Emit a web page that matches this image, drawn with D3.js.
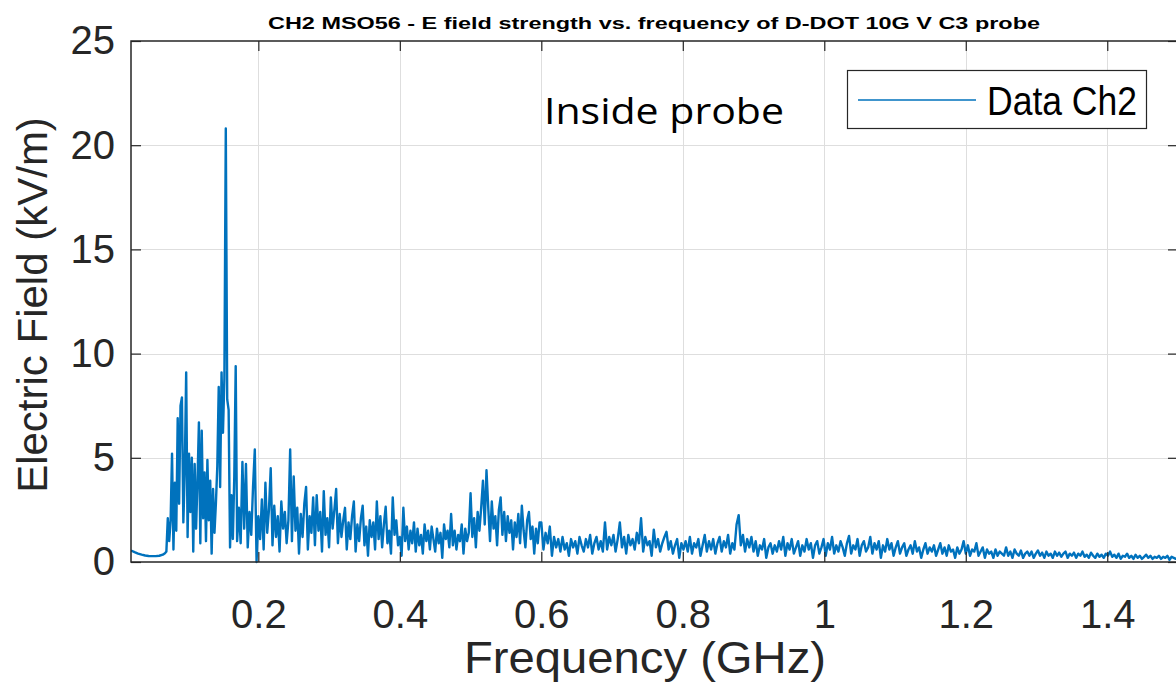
<!DOCTYPE html>
<html><head><meta charset="utf-8">
<script src="https://cdn.jsdelivr.net/npm/d3@7"></script>
<style>body{margin:0;background:#fff}svg{display:block}</style>
</head><body>
<svg id="chart" width="1176" height="688"></svg>
<script>
// ---- data ----
const chartTitle = "CH2 MSO56 - E field strength vs. frequency of D-DOT 10G V C3 probe";
const xLabel = "Frequency (GHz)";
const yLabel = "Electric Field (kV/m)";
const seriesName = "Data Ch2";
const annotation = "Inside probe";
const xTicks = [0.2, 0.4, 0.6, 0.8, 1, 1.2, 1.4];
const yTicks = [0, 5, 10, 15, 20, 25];

// smooth low-frequency part
const lowFreq   = [0.020, 0.025, 0.030, 0.035, 0.040, 0.045, 0.050, 0.055, 0.060, 0.065, 0.068];
const lowValues = [0.55, 0.47, 0.40, 0.35, 0.31, 0.29, 0.28, 0.28, 0.30, 0.35, 0.42];

// noisy spectrum, in bands (start frequency, step in GHz)
const bandStart = [0.070, 0.170, 0.400, 0.600, 0.900, 1.200];
const bandStep  = [0.002, 0.0025, 0.0025, 0.003, 0.003, 0.003];

const band1 = [0.5, 2.1, 1.0, 2.0, 5.2, 0.6, 3.8, 1.5, 6.9, 2.8,
  7.5, 7.9, 1.9, 4.4, 9.1, 1.2, 5.2, 2.4, 5.0, 0.5,
  4.7, 1.6, 3.9, 6.7, 0.9, 6.3, 2.1, 4.3, 1.0, 4.9,
  2.0, 3.9, 0.4, 3.5, 1.4, 2.8, 4.6, 8.4, 3.6, 9.1,
  6.2, 8.8, 20.8, 7.8, 7.3, 0.7, 3.2, 1.1, 4.1, 9.4];
const band2 = [1.0, 2.6, 0.9, 4.8, 1.6, 4.7, 0.7, 2.4, 1.3, 3.6,
  5.4, 0.0, 2.2, 1.1, 3.0, 0.6, 3.8, 1.4, 2.5, 4.5,
  0.8, 2.7, 1.2, 2.2, 0.5, 2.9, 1.6, 2.4, 0.9, 2.0,
  5.4, 1.0, 4.1, 1.5, 2.6, 0.4, 2.3, 1.2, 2.8, 3.6,
  0.6, 2.2, 1.4, 3.1, 0.8, 3.2, 1.5, 2.4, 0.5, 3.4,
  1.3, 2.1, 0.7, 3.1, 1.6, 2.5, 3.5, 0.9, 2.3, 1.2,
  2.0, 2.6, 0.6, 1.9, 1.1, 2.2, 2.9, 0.5, 1.8, 1.0,
  2.1, 2.7, 0.8, 1.7, 0.3, 2.0, 1.2, 1.9, 0.6, 2.9,
  1.1, 2.2, 0.7, 1.8, 2.65, 0.9, 1.5, 0.4, 3.1, 1.3,
  2.0, 0.8];
const band3 = [1.2, 0.3, 2.6, 1.0, 1.7, 0.6, 1.5, 0.9, 1.9, 0.5,
  1.6, 0.8, 1.3, 0.4, 1.8, 1.0, 1.5, 0.6, 1.7, 1.1,
  0.5, 1.6, 0.9, 1.4, 0.2, 1.8, 1.1, 1.5, 0.7, 2.3,
  0.8, 1.5, 0.6, 1.3, 1.0, 1.8, 0.4, 1.6, 1.0, 1.4,
  3.3, 1.2, 2.1, 0.7, 2.4, 1.5, 2.6, 3.9, 1.8, 4.4,
  2.6, 1.0, 2.9, 1.6, 2.2, 0.8, 2.5, 3.1, 1.3, 2.4,
  1.0, 2.2, 1.4, 2.0, 0.6, 1.9, 1.2, 2.3, 0.9, 2.7,
  1.5, 0.7, 2.0, 2.4, 1.1, 1.7, 0.4, 1.6, 0.9, 1.9];
const band4 = [1.9, 0.6, 1.4, 0.9, 1.7, 0.3, 1.2, 0.7, 1.1, 0.5,
  1.2, 0.6, 0.9, 0.3, 1.1, 0.7, 1.0, 0.4, 1.2, 0.8,
  0.5, 1.1, 0.7, 1.3, 0.4, 0.9, 1.2, 0.6, 1.0, 0.5,
  1.9, 0.6, 1.2, 0.8, 1.3, 0.5, 1.1, 1.9, 0.7, 1.2,
  0.4, 1.3, 0.8, 1.1, 0.6, 1.4, 0.9, 2.1, 0.5, 1.2,
  0.8, 1.0, 0.3, 1.55, 0.7, 1.1, 0.5, 0.9, 1.2, 1.45,
  0.6, 1.0, 0.4, 0.8, 1.1, 0.2, 0.9, 0.6, 1.0, 0.5,
  1.2, 0.4, 0.9, 0.7, 1.1, 0.3, 0.8, 1.3, 0.5, 1.0,
  0.6, 1.1, 0.4, 0.9, 1.2, 0.5, 1.0, 0.7, 1.3, 0.4,
  0.9, 0.6, 1.8, 2.25, 0.8, 1.3, 0.5, 1.1, 0.7, 1.2];
const band5 = [0.5, 1.0, 0.3, 0.8, 0.6, 1.1, 0.2, 0.7, 0.9, 0.4,
  0.8, 0.5, 1.0, 0.6, 1.2, 0.3, 0.9, 0.6, 1.1, 0.4,
  0.7, 1.0, 0.3, 0.8, 0.5, 1.1, 0.6, 0.9, 0.2, 0.8,
  1.0, 0.4, 0.7, 1.1, 0.3, 0.9, 0.6, 1.2, 0.4, 0.8,
  0.5, 1.0, 0.7, 0.3, 0.9, 1.25, 0.4, 0.8, 0.6, 1.1,
  0.3, 0.8, 1.0, 0.5, 0.7, 1.2, 0.4, 0.9, 0.6, 1.0,
  0.2, 0.8, 0.5, 1.1, 0.6, 0.9, 0.3, 0.7, 1.0, 0.4,
  0.7, 0.9, 0.3, 0.6, 0.8, 0.4, 1.0, 0.5, 0.7, 0.2,
  0.6, 0.9, 0.4, 0.7, 0.5, 0.8, 0.3, 0.6, 0.9, 0.4,
  0.7, 0.3, 0.8, 0.5, 0.6, 0.2, 0.7, 0.4, 0.6, 1.0];
const band6 = [0.4, 0.8, 0.3, 0.6, 0.5, 0.9, 0.3, 0.5, 0.7, 0.2,
  0.6, 0.4, 0.5, 0.2, 0.6, 0.3, 0.5, 0.4, 0.3, 0.7,
  0.3, 0.5, 0.2, 0.6, 0.4, 0.3, 0.55, 0.2, 0.4, 0.5,
  0.3, 0.5, 0.2, 0.4, 0.55, 0.3, 0.45, 0.2, 0.5, 0.3,
  0.4, 0.2, 0.5, 0.3, 0.45, 0.25, 0.4, 0.5, 0.2, 0.4,
  0.3, 0.45, 0.2, 0.4, 0.3, 0.5, 0.25, 0.35, 0.2, 0.45,
  0.3, 0.2, 0.4, 0.25, 0.35, 0.2, 0.4, 0.3, 0.5, 0.25,
  0.35, 0.2, 0.4, 0.15, 0.3, 0.25, 0.4, 0.2, 0.3, 0.15,
  0.35, 0.2, 0.3, 0.15, 0.25, 0.35, 0.2, 0.3, 0.15, 0.25,
  0.2, 0.3, 0.15, 0.25, 0.2, 0.3, 0.1, 0.25, 0.2, 0.15, 0.2];
const bands = [band1, band2, band3, band4, band5, band6];

// ---- build series ----
const series = lowFreq.map((f, i) => ({f, v: lowValues[i]}));
bands.forEach((vals, k) => vals.forEach((v, i) => series.push({f: bandStart[k] + i * bandStep[k], v})));

// ---- layout ----
const svg = d3.select("#chart");
const W = 1176, H = 688;
const m = {left: 131, right: 1178, top: 41, bottom: 562};
const x = d3.scaleLinear().domain([0.02, 1.5]).range([m.left, m.right]);
const y = d3.scaleLinear().domain([0, 25]).range([m.bottom, m.top]);
const axisColor = "#262626";
const font = "'Liberation Sans', Arial, sans-serif";

svg.append("rect").attr("width", W).attr("height", H).attr("fill", "#fff");

// grid
const grid = svg.append("g").attr("stroke", "#dedede").attr("stroke-width", 1);
grid.selectAll(".gx").data(xTicks).join("line")
  .attr("x1", d => Math.round(x(d)) + 0.5).attr("x2", d => Math.round(x(d)) + 0.5)
  .attr("y1", m.top).attr("y2", m.bottom);
grid.selectAll(".gy").data(yTicks.filter(d => d > 0 && d < 25)).join("line")
  .attr("y1", d => Math.round(y(d)) + 0.5).attr("y2", d => Math.round(y(d)) + 0.5)
  .attr("x1", m.left).attr("x2", m.right);

// data line
svg.append("clipPath").attr("id", "clip").append("rect")
  .attr("x", m.left).attr("y", m.top).attr("width", m.right - m.left).attr("height", m.bottom - m.top + 2);
svg.append("path").datum(series)
  .attr("clip-path", "url(#clip)")
  .attr("fill", "none").attr("stroke", "#0072BD").attr("stroke-width", 2.4)
  .attr("stroke-linejoin", "round")
  .attr("d", d3.line().x(d => x(d.f)).y(d => y(d.v)));

// axes
const fmt = d => String(d);
const gx = svg.append("g").attr("transform", `translate(0,${m.bottom})`)
  .call(d3.axisBottom(x).tickValues(xTicks).tickFormat(fmt).tickSizeInner(-10).tickSizeOuter(0).tickPadding(38));
const gxTop = svg.append("g").attr("transform", `translate(0,${m.top})`)
  .call(d3.axisTop(x).tickValues(xTicks).tickFormat("").tickSizeInner(-10).tickSizeOuter(0));
const gy = svg.append("g").attr("transform", `translate(${m.left},0)`)
  .call(d3.axisLeft(y).tickValues(yTicks).tickFormat(fmt).tickSizeInner(-10).tickSizeOuter(0).tickPadding(16));
const gyR = svg.append("g").attr("transform", `translate(${m.right},0)`)
  .call(d3.axisRight(y).tickValues(yTicks).tickFormat("").tickSizeInner(-10).tickSizeOuter(0));
[gx, gxTop, gy, gyR].forEach(g => {
  g.select(".domain").remove();
  g.selectAll(".tick line").attr("stroke", axisColor).attr("stroke-width", 1.2);
  g.selectAll("text").attr("fill", axisColor).attr("font-family", font).attr("font-size", 40);
});
// box
svg.append("rect").attr("x", m.left).attr("y", m.top).attr("width", m.right - m.left).attr("height", m.bottom - m.top)
  .attr("fill", "none").attr("stroke", axisColor).attr("stroke-width", 1.5);

// labels
svg.append("text").attr("x", 654).attr("y", 29).attr("text-anchor", "middle")
  .attr("font-family", font).attr("font-weight", "bold").attr("font-size", 17).attr("fill", "#000")
  .attr("textLength", 772).attr("lengthAdjust", "spacingAndGlyphs").text(chartTitle);
svg.append("text").attr("x", 645).attr("y", 673).attr("text-anchor", "middle")
  .attr("font-family", font).attr("font-size", 44).attr("fill", axisColor)
  .attr("textLength", 362).attr("lengthAdjust", "spacingAndGlyphs").text(xLabel);
svg.append("text").attr("transform", "translate(47,305) rotate(-90)").attr("text-anchor", "middle")
  .attr("font-family", font).attr("font-size", 42).attr("fill", axisColor).text(yLabel);

// annotation
svg.append("text").attr("x", 544).attr("y", 124)
  .attr("font-family", "'Open Sans', 'Noto Sans', sans-serif").attr("font-size", 36).attr("fill", "#000")
  .attr("textLength", 240).attr("lengthAdjust", "spacingAndGlyphs").text(annotation);

// legend
const lg = svg.append("g");
lg.append("rect").attr("x", 847.5).attr("y", 70.5).attr("width", 299).attr("height", 58)
  .attr("fill", "#fff").attr("stroke", axisColor).attr("stroke-width", 1.2);
lg.append("line").attr("x1", 858).attr("x2", 976).attr("y1", 100).attr("y2", 100)
  .attr("stroke", "#0072BD").attr("stroke-width", 1.7);
lg.append("text").attr("x", 987).attr("y", 115)
  .attr("font-family", font).attr("font-size", 40).attr("fill", "#000")
  .attr("textLength", 150).attr("lengthAdjust", "spacingAndGlyphs").text(seriesName);
</script>
</body></html>
